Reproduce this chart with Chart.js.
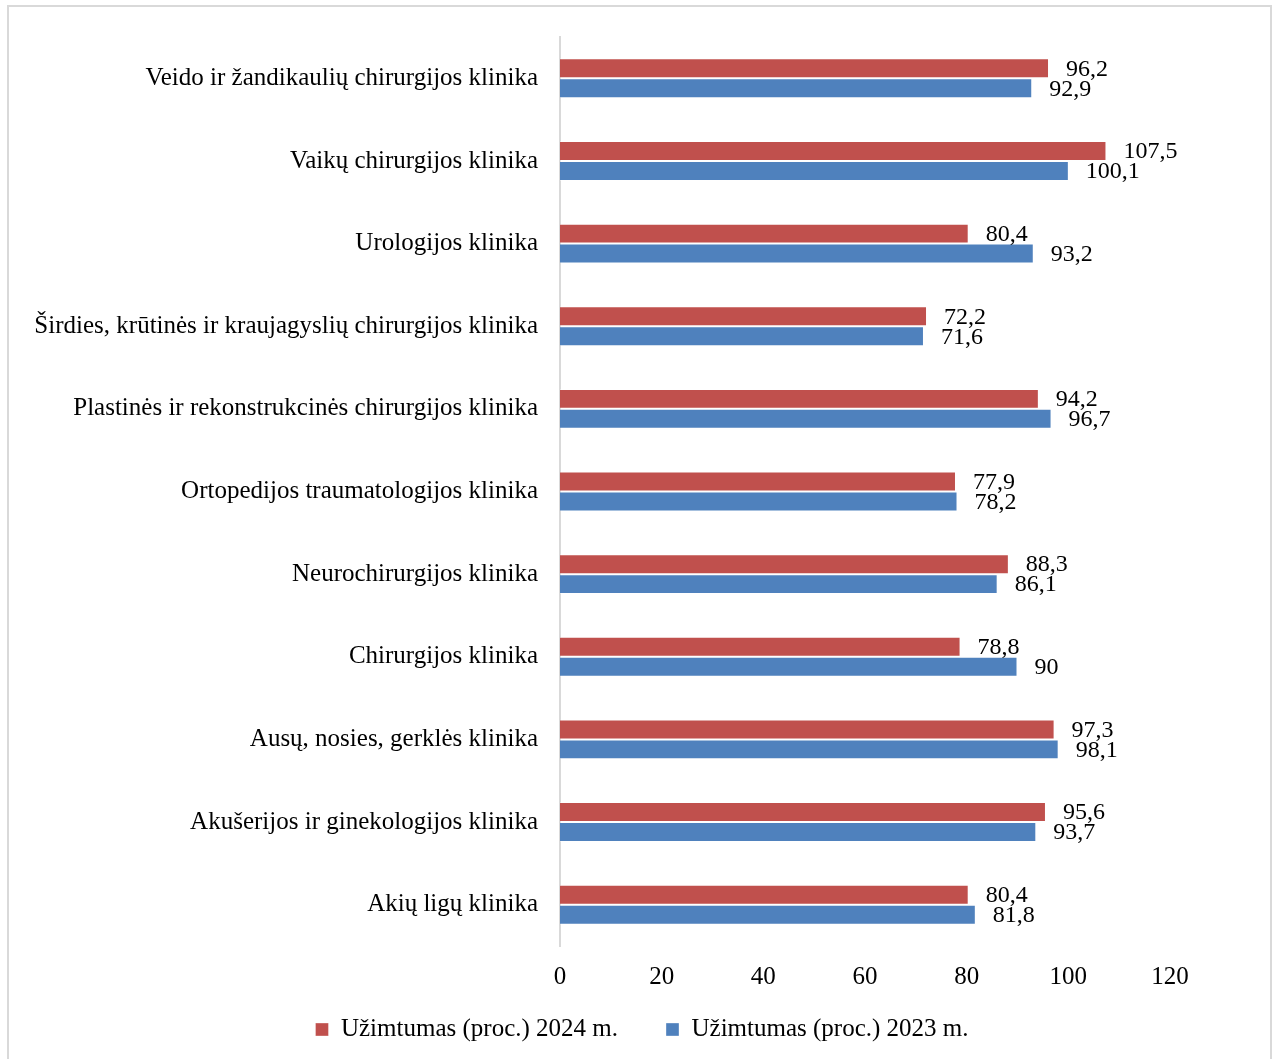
<!DOCTYPE html>
<html>
<head>
<meta charset="utf-8">
<script src="https://cdn.jsdelivr.net/npm/chart.js@4"></script>
<style>
    html, body { margin: 0; padding: 0; background: #fff; }
    #wrap { position: relative; width: 1275px; height: 1059px; overflow: hidden; }
    #frame { position: absolute; left: 7px; top: 5px; width: 1265px; height: 1080px; border: 2px solid #d9d9d9; box-sizing: border-box; pointer-events: none; }
    canvas { position: absolute; left: 0; top: 0; }
</style>
</head>
<body>
<div id="wrap">
    <canvas id="occupancyChart" width="1275" height="1059"></canvas>
    <div id="frame"></div>
</div>
<script>
const clinics = [
    'Veido ir žandikaulių chirurgijos klinika',
    'Vaikų chirurgijos klinika',
    'Urologijos klinika',
    'Širdies, krūtinės ir kraujagyslių chirurgijos klinika',
    'Plastinės ir rekonstrukcinės chirurgijos klinika',
    'Ortopedijos traumatologijos klinika',
    'Neurochirurgijos klinika',
    'Chirurgijos klinika',
    'Ausų, nosies, gerklės klinika',
    'Akušerijos ir ginekologijos klinika',
    'Akių ligų klinika'
];
const occupancy2024 = [96.2, 107.5, 80.4, 72.2, 94.2, 77.9, 88.3, 78.8, 97.3, 95.6, 80.4];
const occupancy2023 = [92.9, 100.1, 93.2, 71.6, 96.7, 78.2, 86.1, 90, 98.1, 93.7, 81.8];
const xTicks = [0, 20, 40, 60, 80, 100, 120];

const fontFamily = '"Liberation Serif", "Times New Roman", serif';

// value labels right of each bar, comma as decimal separator
const valueLabels = {
    id: 'valueLabels',
    afterDatasetsDraw(chart) {
        const ctx = chart.ctx;
        ctx.save();
        ctx.font = '24px ' + fontFamily;
        ctx.fillStyle = '#000';
        ctx.textAlign = 'left';
        ctx.textBaseline = 'middle';
        chart.data.datasets.forEach((ds, i) => {
            const meta = chart.getDatasetMeta(i);
            meta.data.forEach((bar, j) => {
                const txt = String(ds.data[j]).replace('.', ',');
                ctx.fillText(txt, bar.x + 17, bar.y + 1);
            });
        });
        ctx.restore();
    }
};

// legend sits centred on the page, not on the plot; the wide item gap
// (padding) also adds space above it, so pull it back up
const placeLegend = {
    id: 'placeLegend',
    afterLayout(chart) {
        const lg = chart.legend;
        const shift = 642 - (lg.left + lg.right) / 2;
        lg.left += shift;
        lg.right += shift;
        lg.top -= 33;
        lg.bottom -= 33;
    }
};

const ctx = document.getElementById('occupancyChart').getContext('2d');
new Chart(ctx, {
    type: 'bar',
    data: {
        labels: clinics,
        datasets: [{
            label: 'Užimtumas (proc.) 2024 m.',
            data: occupancy2024,
            backgroundColor: '#C0504D',
            borderColor: 'rgba(255,255,255,0.35)',
            borderWidth: 1,
            categoryPercentage: 0.483,
            barPercentage: 1
        }, {
            label: 'Užimtumas (proc.) 2023 m.',
            data: occupancy2023,
            backgroundColor: '#4F81BD',
            borderColor: 'rgba(255,255,255,0.35)',
            borderWidth: 1,
            categoryPercentage: 0.483,
            barPercentage: 1
        }]
    },
    options: {
        indexAxis: 'y',
        responsive: false,
        animation: false,
        layout: {
            padding: { top: 36, right: 105, left: 0, bottom: -26 }
        },
        plugins: {
            legend: {
                position: 'bottom',
                labels: {
                    boxWidth: 13,
                    boxHeight: 13,
                    padding: 48,
                    color: '#000',
                    font: { family: fontFamily, size: 25 }
                }
            },
            tooltip: { enabled: false }
        },
        scales: {
            x: {
                min: 0,
                max: 120,
                afterBuildTicks: scale => { scale.ticks = xTicks.map(v => ({ value: v })); },
                afterFit: scale => { scale.height = 56; },
                grid: { display: false, drawTicks: false },
                border: { display: false },
                ticks: {
                    padding: 16,
                    color: '#000',
                    font: { family: fontFamily, size: 25 }
                }
            },
            y: {
                afterFit: scale => { scale.width = 560; },
                grid: { display: false, drawTicks: false },
                border: { display: true, color: '#d9d9d9', width: 2 },
                ticks: {
                    padding: 22,
                    color: '#000',
                    font: { family: fontFamily, size: 25 }
                }
            }
        }
    },
    plugins: [valueLabels, placeLegend]
});
</script>
</body>
</html>
